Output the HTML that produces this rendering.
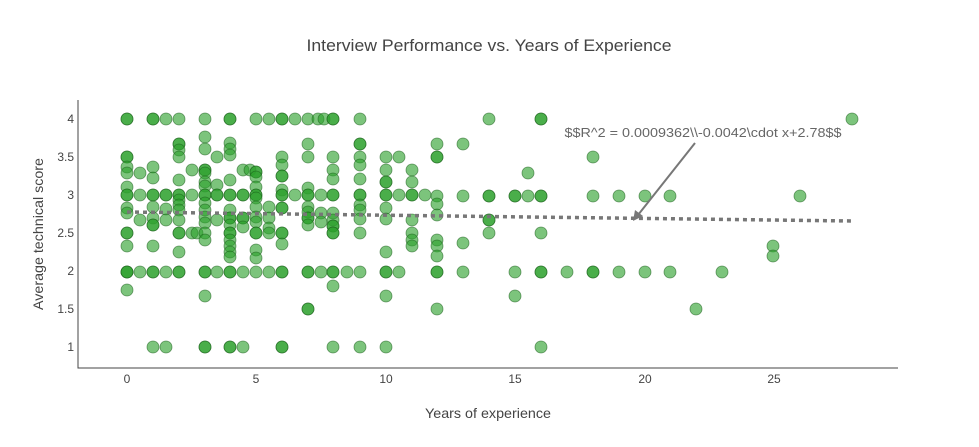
<!DOCTYPE html>
<html><head><meta charset="utf-8"><style>
html,body{margin:0;padding:0;background:#fff;}
svg{display:block;font-family:"Liberation Sans",sans-serif;}
</style></head><body>
<svg width="979" height="447" viewBox="0 0 979 447" xmlns="http://www.w3.org/2000/svg">
<rect width="979" height="447" fill="#fff"/>
<text x="489" y="51" text-anchor="middle" font-size="17" fill="#444" textLength="365" lengthAdjust="spacingAndGlyphs">Interview Performance vs. Years of Experience</text>
<g fill="#2ca02c" fill-opacity="0.62" stroke="#1b5e1b" stroke-opacity="0.6" stroke-width="0.8" id="pts"></g>
<line x1="127" y1="212" x2="852" y2="221" stroke="#777" stroke-width="3.5" stroke-dasharray="4,4"/>
<g fill="#444" font-size="12" text-anchor="end">
<text x="74" y="123">4</text><text x="74" y="161">3.5</text><text x="74" y="199">3</text><text x="74" y="237">2.5</text><text x="74" y="275">2</text><text x="74" y="313">1.5</text><text x="74" y="351">1</text>
</g>
<g fill="#444" font-size="12" text-anchor="middle">
<text x="127" y="383">0</text><text x="256" y="383">5</text><text x="386" y="383">10</text><text x="515" y="383">15</text><text x="645" y="383">20</text><text x="774" y="383">25</text>
</g>
<line x1="78" y1="100" x2="78" y2="368.5" stroke="#444" stroke-width="1"/>
<line x1="77.5" y1="368" x2="898" y2="368" stroke="#444" stroke-width="1"/>
<text x="488" y="418" text-anchor="middle" font-size="14" fill="#444" textLength="126" lengthAdjust="spacingAndGlyphs">Years of experience</text>
<text transform="translate(43,234) rotate(-90)" x="0" y="0" text-anchor="middle" font-size="14" fill="#444" textLength="152" lengthAdjust="spacingAndGlyphs">Average technical score</text>
<text x="703" y="137" text-anchor="middle" font-size="12.5" fill="#666" textLength="277" lengthAdjust="spacingAndGlyphs">$$R^2 = 0.0009362\\-0.0042\cdot x+2.78$$</text>
<line x1="695" y1="143" x2="638" y2="215" stroke="#777" stroke-width="2"/>
<polygon points="633,221 635,210 643,216" fill="#777"/>
</svg>
<script>
var d={127:[119,119,157,157,167,173,187,195,195,208,213,233,233,246,272,272,272,290],
140:[173,195,220,272],
153:[119,119,167,178,195,195,207,218,225,225,246,272,272,347],
166:[119,195,195,209,220,272,347],
179:[119,144,144,150,157,180,195,195,200,205,210,220,233,233,252,272,272],
192:[170,195,233],197:[233],
205:[119,137,149,170,170,173,182,186,195,195,203,210,217,223,233,240,272,272,296,347,347],
217:[157,185,195,195,220,272],
230:[119,119,143,149,155,180,195,195,210,218,218,225,233,233,240,246,252,257,272,272,347,347],
243:[170,195,195,218,218,227,272,347],250:[170],
256:[119,172,172,177,187,195,195,198,207,217,222,233,233,250,258,272],
269:[119,207,218,228,233,272],
282:[119,119,157,165,176,176,190,195,195,208,208,233,233,244,272,272,347,347],
295:[119,195],
308:[119,144,157,188,195,195,207,212,218,218,225,272,272,309,309],
318:[119],324:[119],321:[195,213,222,272],
333:[119,119,157,170,179,195,195,213,220,226,226,233,233,272,272,286,347],
347:[272],
360:[119,144,144,157,165,179,195,195,205,210,219,233,272,347],
386:[157,170,182,182,195,195,208,219,252,272,272,296,347],
399:[157,195,272],
412:[170,182,195,195,220,233,240,246],
425:[195],
437:[144,157,157,196,204,215,240,246,256,272,272,309],
463:[144,196,243,272],
489:[119,196,196,220,220,233],
515:[196,196,272,296],528:[173,196],
541:[119,119,196,196,233,272,272,347],
567:[272],593:[157,196,272,272],619:[196,272],645:[196,272],670:[196,272],
696:[309],722:[272],773:[246,256],800:[196],852:[119]};
var g=document.getElementById('pts'),s='';
for(var x in d){d[x].forEach(function(y){s+='<circle cx="'+x+'" cy="'+y+'" r="6"/>';});}
g.innerHTML=s;
</script>
</body></html>
